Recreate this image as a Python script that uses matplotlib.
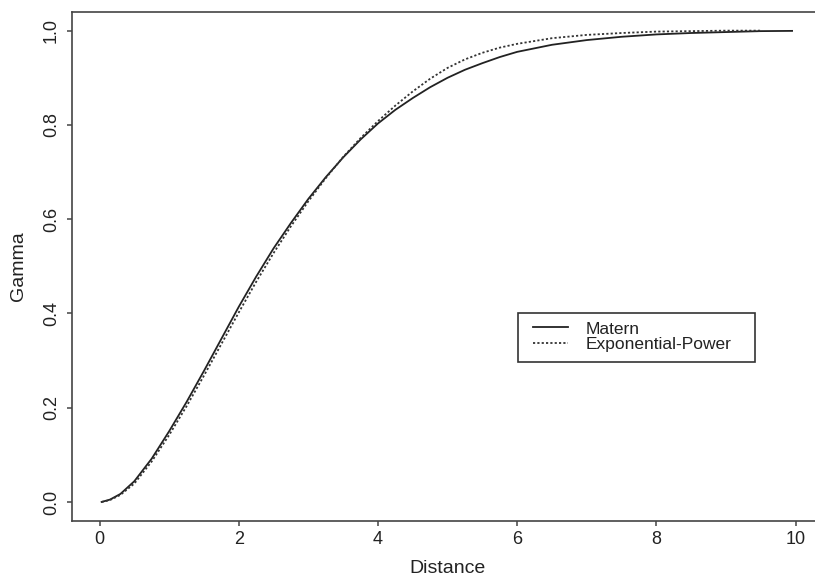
import matplotlib.pyplot as plt
from matplotlib.patches import Rectangle

# values
distance = [0.03, 0.15, 0.3, 0.5, 0.75, 1.0, 1.25, 1.5, 1.75, 2.0, 2.25, 2.5, 2.75,
            3.0, 3.25, 3.5, 3.75, 4.0, 4.25, 4.5, 4.75, 5.0, 5.25, 5.5, 5.75,
            6.0, 6.5, 7.0, 7.5, 8.0, 8.5, 9.0, 9.5, 9.95]
matern = [0.0, 0.005, 0.017, 0.044, 0.092, 0.150, 0.212, 0.278, 0.346, 0.414, 0.478,
          0.538, 0.592, 0.643, 0.689, 0.731, 0.769, 0.803, 0.832, 0.857, 0.880,
          0.900, 0.917, 0.931, 0.944, 0.955, 0.970, 0.980, 0.987, 0.992, 0.995,
          0.997, 0.999, 0.9995]

dist_ep = [0.03, 0.15, 0.3, 0.5, 0.75, 1.0, 1.25, 1.5, 1.75, 2.0, 2.25, 2.5, 2.75,
           3.0, 3.25, 3.5, 3.75, 4.0, 4.25, 4.5, 4.75, 5.0, 5.25, 5.5, 5.75,
           6.0, 6.5, 7.0, 7.5, 8.0, 8.5, 9.0, 9.5]
exp_power = [0.0, 0.004, 0.015, 0.039, 0.086, 0.142, 0.203, 0.268, 0.335, 0.402, 0.467,
             0.528, 0.585, 0.638, 0.687, 0.732, 0.772, 0.808, 0.841, 0.871, 0.898,
             0.921, 0.939, 0.953, 0.964, 0.972, 0.984, 0.991, 0.995, 0.998, 0.999,
             1.0, 1.0]

xticks = [0, 2, 4, 6, 8, 10]
yticks = [0.0, 0.2, 0.4, 0.6, 0.8, 1.0]

plt.rcParams['font.family'] = ['Liberation Sans', 'DejaVu Sans']

fig = plt.figure(figsize=(8.15, 5.81), dpi=100)
ax = fig.add_axes([71.7/815, (581-520.8)/581, 751.7/815, 509/581])

ax.plot(distance, matern, color='#222222', lw=1.3, label='Matern')
ax.plot(dist_ep, exp_power, color='#333333', lw=1.3, linestyle=(0, (1.2, 1.2)),
        label='Exponential-Power')

ax.set_xlim(-0.4, 10.4)
ax.set_ylim(-0.04, 1.04)
ax.set_xticks(xticks)
ax.set_xticklabels([str(t) for t in xticks])
ax.set_yticks(yticks)
ax.set_yticklabels(['%.1f' % t for t in yticks], rotation=90, va='center')

for s in ax.spines.values():
    s.set_color('#444444')
    s.set_linewidth(1.2)
ax.tick_params(direction='out', length=3.6, width=1.1, color='#444444',
               labelsize=13, labelcolor='#222222')
ax.tick_params(axis='x', pad=4)
ax.tick_params(axis='y', pad=5)

ax.set_xlabel('Distance', fontsize=14, color='#222222', va='center')
ax.xaxis.set_label_coords(0.5, -0.093)
ax.set_ylabel('Gamma', fontsize=14, color='#222222', va='center')
ax.yaxis.set_label_coords((18-71.7)/751.7, 0.5)

# legend: R style box drawn as a plain rectangle
leg = ax.legend(loc='center left', bbox_to_anchor=(0.614, 0.362), frameon=False,
                borderpad=0, borderaxespad=0, fontsize=12.5, handlelength=2.0,
                handletextpad=1.0, labelspacing=0.0)
for t in leg.get_texts():
    t.set_color('#222222')
box = Rectangle((0.594, 0.312), 0.315, 0.096, transform=ax.transAxes,
                fill=False, edgecolor='#333333', lw=1.2, zorder=1)
ax.add_patch(box)

fig.savefig('out.png', dpi=100)
